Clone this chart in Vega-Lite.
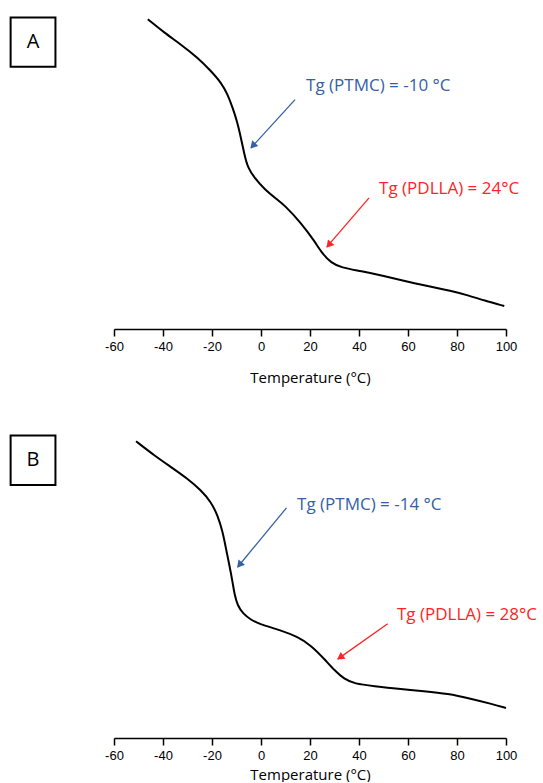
{
  "$schema": "https://vega.github.io/schema/vega-lite/v6.json",
  "background": "white",
  "padding": {"left": 9, "top": 15, "right": 0, "bottom": 0},
  "spacing": 49,
  "config": {"view": {"stroke": null}},
  "datasets": {
    "curveA": [
      {"temp": -46.2, "signal": 99.9}, {"temp": -39.5, "signal": 95.6}, {"temp": -32.7, "signal": 91.8},
      {"temp": -25.8, "signal": 87.5}, {"temp": -20.4, "signal": 83.2}, {"temp": -16.3, "signal": 79.5},
      {"temp": -13.6, "signal": 75.7}, {"temp": -11.6, "signal": 71.4}, {"temp": -9.8, "signal": 67.1},
      {"temp": -8.2, "signal": 61.7}, {"temp": -6.8, "signal": 56.4}, {"temp": -5.4, "signal": 52.0},
      {"temp": -2.7, "signal": 48.8}, {"temp": 1.3, "signal": 45.1}, {"temp": 6.8, "signal": 41.6},
      {"temp": 9.5, "signal": 40.0}, {"temp": 16.3, "signal": 34.3}, {"temp": 21.8, "signal": 28.4},
      {"temp": 25.2, "signal": 24.1}, {"temp": 28.6, "signal": 21.4}, {"temp": 32.7, "signal": 19.8},
      {"temp": 40.8, "signal": 18.7}, {"temp": 50.3, "signal": 17.1}, {"temp": 58.5, "signal": 15.5},
      {"temp": 68.0, "signal": 13.9}, {"temp": 77.6, "signal": 12.3}, {"temp": 84.4, "signal": 10.9},
      {"temp": 91.1, "signal": 9.2}, {"temp": 99.3, "signal": 7.4}
    ],
    "curveB": [
      {"temp": -51.0, "signal": 98.9}, {"temp": -43.6, "signal": 94.2}, {"temp": -36.7, "signal": 90.3},
      {"temp": -29.9, "signal": 86.4}, {"temp": -24.5, "signal": 82.6}, {"temp": -20.4, "signal": 78.7},
      {"temp": -17.7, "signal": 74.2}, {"temp": -15.6, "signal": 68.7}, {"temp": -14.3, "signal": 63.1},
      {"temp": -12.9, "signal": 57.6}, {"temp": -11.7, "signal": 52.5}, {"temp": -10.8, "signal": 47.8},
      {"temp": -9.6, "signal": 44.2}, {"temp": -7.3, "signal": 41.4}, {"temp": -4.1, "signal": 39.4},
      {"temp": -0.8, "signal": 38.0}, {"temp": 8.2, "signal": 35.9}, {"temp": 15.0, "signal": 33.7},
      {"temp": 20.4, "signal": 30.9}, {"temp": 25.8, "signal": 26.4}, {"temp": 29.9, "signal": 22.6},
      {"temp": 34.0, "signal": 19.6}, {"temp": 38.1, "signal": 18.1}, {"temp": 46.2, "signal": 17.3},
      {"temp": 55.8, "signal": 16.4}, {"temp": 66.7, "signal": 15.6}, {"temp": 76.2, "signal": 14.8},
      {"temp": 85.7, "signal": 13.1}, {"temp": 93.9, "signal": 11.4}, {"temp": 100.0, "signal": 10.0}
    ],
    "annA": [
      {"series": "PTMC", "x0": 13.9, "y0": 74.0, "x1": -4.1, "y1": 58.4, "hx": -3.0, "hy": 59.4, "label": "Tg (PTMC) = -10 °C", "tx": 18.4, "ty": 78.4},
      {"series": "PDLLA", "x0": 44.1, "y0": 42.3, "x1": 26.9, "y1": 26.5, "hx": 28.0, "hy": 27.4, "label": "Tg (PDLLA) = 24°C", "tx": 48.2, "ty": 45.2}
    ],
    "annB": [
      {"series": "PTMC", "x0": 10.4, "y0": 76.7, "x1": -9.5, "y1": 57.0, "hx": -8.5, "hy": 58.0, "label": "Tg (PTMC) = -14 °C", "tx": 14.7, "ty": 77.7},
      {"series": "PDLLA", "x0": 51.7, "y0": 38.1, "x1": 31.3, "y1": 26.3, "hx": 32.7, "hy": 27.1, "label": "Tg (PDLLA) = 28°C", "tx": 55.5, "ty": 41.0}
    ],
    "boxA": [{"panel": "A", "xa": -102.2, "xb": -83.9, "ya": 84.6, "yb": 100.5, "xc": -93.05, "yc": 92.55}],
    "boxB": [{"panel": "B", "xa": -102.2, "xb": -83.9, "ya": 84.3, "yb": 100.8, "xc": -93.05, "yc": 92.55}]
  },
  "vconcat": [
    {
      "width": 392,
      "height": 310,
      "layer": [
        {
          "data": {"name": "curveA"},
          "mark": {"type": "line", "color": "black", "strokeWidth": 2, "interpolate": "basis"},
          "encoding": {
            "x": {"field": "temp", "type": "quantitative", "scale": {"domain": [-60, 100], "nice": false, "zero": false},
              "axis": {"values": [-60, -50, -40, -30, -20, -10, 0, 10, 20, 30, 40, 50, 60, 70, 80, 90, 100],
                "labelExpr": "datum.value % 20 === 0 ? '' + datum.value : ''",
                "tickSize": {"condition": {"test": "datum.value % 20 === 0", "value": 7}, "value": 4},
                "grid": false, "domainColor": "black", "domainWidth": 1.5, "tickColor": "black", "tickWidth": 1.5,
                "labelFont": "Liberation Sans", "labelFontSize": 13, "labelColor": "black", "labelPadding": 4,
                "labelFlush": false, "labelOverlap": false,
                "title": "Temperature (°C)", "titleFont": "Open Sans", "titleFontSize": 15, "titleFontWeight": "normal",
                "titleColor": "black", "titlePadding": 17}},
            "y": {"field": "signal", "type": "quantitative", "scale": {"domain": [0, 100], "nice": false, "zero": false}, "axis": null}
          }
        },
        {
          "data": {"name": "boxA"},
          "mark": {"type": "rect", "fill": "white", "stroke": "black", "strokeWidth": 2},
          "encoding": {
            "x": {"field": "xa", "type": "quantitative"}, "x2": {"field": "xb"},
            "y": {"field": "ya", "type": "quantitative"}, "y2": {"field": "yb"}
          }
        },
        {
          "data": {"name": "boxA"},
          "mark": {"type": "text", "font": "Open Sans", "fontSize": 20, "color": "black", "align": "center", "baseline": "middle"},
          "encoding": {
            "x": {"field": "xc", "type": "quantitative"}, "y": {"field": "yc", "type": "quantitative"},
            "text": {"field": "panel"}
          }
        },
        {
          "data": {"name": "annA"},
          "mark": {"type": "rule", "strokeWidth": 1.3},
          "encoding": {
            "x": {"field": "x0", "type": "quantitative"}, "y": {"field": "y0", "type": "quantitative"},
            "x2": {"field": "x1"}, "y2": {"field": "y1"},
            "color": {"field": "series", "type": "nominal", "scale": {"domain": ["PTMC", "PDLLA"], "range": ["#3560A6", "#FF2424"]}, "legend": null}
          }
        },
        {
          "data": {"name": "annA"},
          "transform": [{"filter": "datum.series === 'PTMC'"}],
          "mark": {"type": "point", "shape": "triangle", "filled": true, "size": 70, "angle": 222.3, "opacity": 1},
          "encoding": {
            "x": {"field": "hx", "type": "quantitative"}, "y": {"field": "hy", "type": "quantitative"},
            "color": {"field": "series", "type": "nominal", "legend": null}
          }
        },
        {
          "data": {"name": "annA"},
          "transform": [{"filter": "datum.series === 'PDLLA'"}],
          "mark": {"type": "point", "shape": "triangle", "filled": true, "size": 70, "angle": 220.6, "opacity": 1},
          "encoding": {
            "x": {"field": "hx", "type": "quantitative"}, "y": {"field": "hy", "type": "quantitative"},
            "color": {"field": "series", "type": "nominal", "legend": null}
          }
        },
        {
          "data": {"name": "annA"},
          "mark": {"type": "text", "font": "Open Sans", "fontSize": 17, "align": "left", "baseline": "middle"},
          "encoding": {
            "x": {"field": "tx", "type": "quantitative"}, "y": {"field": "ty", "type": "quantitative"},
            "text": {"field": "label"},
            "color": {"field": "series", "type": "nominal", "legend": null}
          }
        }
      ]
    },
    {
      "width": 392,
      "height": 300,
      "layer": [
        {
          "data": {"name": "curveB"},
          "mark": {"type": "line", "color": "black", "strokeWidth": 2, "interpolate": "basis"},
          "encoding": {
            "x": {"field": "temp", "type": "quantitative", "scale": {"domain": [-60, 100], "nice": false, "zero": false},
              "axis": {"values": [-60, -50, -40, -30, -20, -10, 0, 10, 20, 30, 40, 50, 60, 70, 80, 90, 100],
                "labelExpr": "datum.value % 20 === 0 ? '' + datum.value : ''",
                "tickSize": {"condition": {"test": "datum.value % 20 === 0", "value": 7}, "value": 4},
                "grid": false, "domainColor": "black", "domainWidth": 1.5, "tickColor": "black", "tickWidth": 1.5,
                "labelFont": "Liberation Sans", "labelFontSize": 13, "labelColor": "black", "labelPadding": 4,
                "labelFlush": false, "labelOverlap": false,
                "title": "Temperature (°C)", "titleFont": "Open Sans", "titleFontSize": 15, "titleFontWeight": "normal",
                "titleColor": "black", "titlePadding": 5}},
            "y": {"field": "signal", "type": "quantitative", "scale": {"domain": [0, 100], "nice": false, "zero": false}, "axis": null}
          }
        },
        {
          "data": {"name": "boxB"},
          "mark": {"type": "rect", "fill": "white", "stroke": "black", "strokeWidth": 2},
          "encoding": {
            "x": {"field": "xa", "type": "quantitative"}, "x2": {"field": "xb"},
            "y": {"field": "ya", "type": "quantitative"}, "y2": {"field": "yb"}
          }
        },
        {
          "data": {"name": "boxB"},
          "mark": {"type": "text", "font": "Open Sans", "fontSize": 20, "color": "black", "align": "center", "baseline": "middle"},
          "encoding": {
            "x": {"field": "xc", "type": "quantitative"}, "y": {"field": "yc", "type": "quantitative"},
            "text": {"field": "panel"}
          }
        },
        {
          "data": {"name": "annB"},
          "mark": {"type": "rule", "strokeWidth": 1.3},
          "encoding": {
            "x": {"field": "x0", "type": "quantitative"}, "y": {"field": "y0", "type": "quantitative"},
            "x2": {"field": "x1"}, "y2": {"field": "y1"},
            "color": {"field": "series", "type": "nominal", "scale": {"domain": ["PTMC", "PDLLA"], "range": ["#3560A6", "#FF2424"]}, "legend": null}
          }
        },
        {
          "data": {"name": "annB"},
          "transform": [{"filter": "datum.series === 'PTMC'"}],
          "mark": {"type": "point", "shape": "triangle", "filled": true, "size": 70, "angle": 219.6, "opacity": 1},
          "encoding": {
            "x": {"field": "hx", "type": "quantitative"}, "y": {"field": "hy", "type": "quantitative"},
            "color": {"field": "series", "type": "nominal", "legend": null}
          }
        },
        {
          "data": {"name": "annB"},
          "transform": [{"filter": "datum.series === 'PDLLA'"}],
          "mark": {"type": "point", "shape": "triangle", "filled": true, "size": 70, "angle": 234.8, "opacity": 1},
          "encoding": {
            "x": {"field": "hx", "type": "quantitative"}, "y": {"field": "hy", "type": "quantitative"},
            "color": {"field": "series", "type": "nominal", "legend": null}
          }
        },
        {
          "data": {"name": "annB"},
          "mark": {"type": "text", "font": "Open Sans", "fontSize": 17, "align": "left", "baseline": "middle"},
          "encoding": {
            "x": {"field": "tx", "type": "quantitative"}, "y": {"field": "ty", "type": "quantitative"},
            "text": {"field": "label"},
            "color": {"field": "series", "type": "nominal", "legend": null}
          }
        }
      ]
    }
  ]
}
